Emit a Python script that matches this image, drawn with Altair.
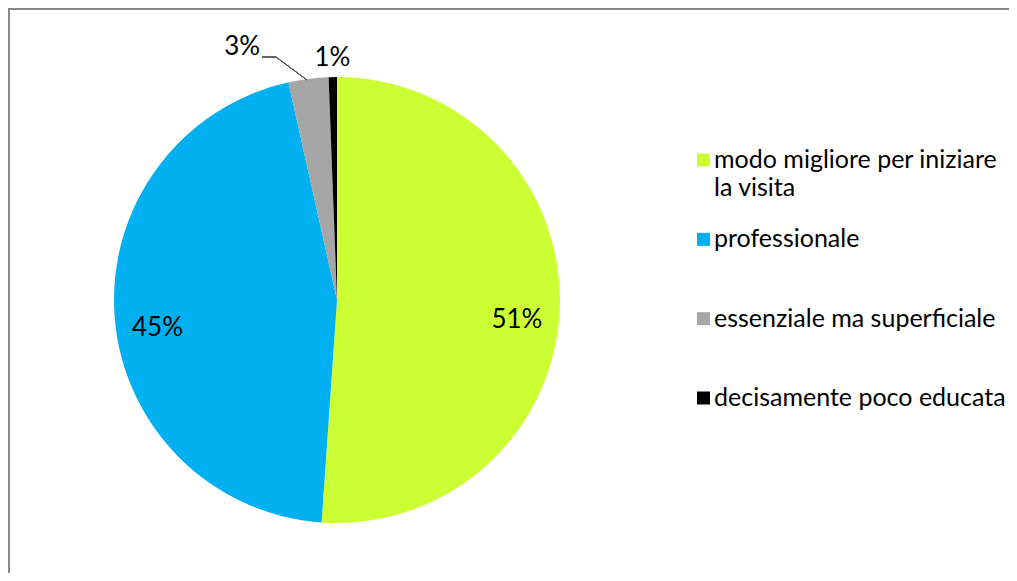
import altair as alt

categories = ["modo migliore per iniziare la visita", "professionale",
              "essenziale ma superficiale", "decisamente poco educata"]
legend_lines = [["modo migliore per iniziare", "la visita"], ["professionale"],
                ["essenziale ma superficiale"], ["decisamente poco educata"]]
values = [51.1, 45.4, 2.9, 0.6]
labels = ["51%", "45%", "3%", "1%"]
colors = ["#CCFF33", "#00B0F0", "#A6A6A6", "#000000"]

rows = [dict(cat=c, val=v, label=l, idx=i, lines=ln)
        for i, (c, v, l, ln) in enumerate(zip(categories, values, labels, legend_lines))]
data = alt.Data(values=rows)
base = alt.Chart(data)

FONT = "Lato"
PCT = 26
color = alt.Color("cat:N", scale=alt.Scale(domain=categories, range=colors), legend=None)
theta = alt.Theta("val:Q", stack=True)
order = alt.Order("idx:Q")
cx, cy = alt.value(329), alt.value(292)

pie = base.mark_arc(outerRadius=223).encode(theta=theta, color=color, order=order, x=cx, y=cy)

big = base.transform_calculate(t="datum.idx < 2 ? datum.label : ''").mark_text(
    radius=180, dy=14, fontSize=PCT, font=FONT, color="#000"
).encode(theta=theta, order=order, text="t:N", x=cx, y=cy)

one = base.transform_calculate(t="datum.idx == 3 ? datum.label : ''").mark_text(
    radius=242, fontSize=PCT, font=FONT, color="#000"
).encode(theta=theta, order=order, text="t:N", x=cx, y=cy)

three = base.transform_calculate(t="datum.idx == 2 ? datum.label : ''").mark_text(
    radius=255, dx=-62, fontSize=PCT, font=FONT, color="#000"
).encode(theta=theta, order=order, text="t:N", x=cx, y=cy)

leader1 = base.mark_rule(color="#595959", strokeWidth=1).encode(
    x=alt.value(254), x2=alt.value(268), y=alt.value(49), y2=alt.value(49))
leader2 = base.mark_rule(color="#595959", strokeWidth=1).encode(
    x=alt.value(268), x2=alt.value(299), y=alt.value(49), y2=alt.value(72))

ypos = alt.Y("cat:N", sort=categories, axis=None,
             scale=alt.Scale(type="point", domain=categories, range=[152, 390], padding=0))

leg_sq = base.mark_square(size=169, opacity=1).encode(
    x=alt.value(695.5), y=ypos, color=color)
leg_tx = base.mark_text(align="left", baseline="alphabetic", dy=8, fontSize=25,
                        lineHeight=28, font=FONT, color="#000").encode(
    x=alt.value(706), y=ypos, text="lines:N")

frame_top = base.mark_rule(color="#888888", strokeWidth=2).encode(
    x=alt.value(0), x2=alt.value(1001), y=alt.value(1), y2=alt.value(1))
frame_left = base.mark_rule(color="#888888", strokeWidth=2).encode(
    x=alt.value(1), x2=alt.value(1), y=alt.value(0), y2=alt.value(565))

chart = alt.layer(pie, big, one, three, leader1, leader2, leg_sq, leg_tx,
                  frame_top, frame_left).properties(
    width=1001, height=565, autosize=alt.AutoSizeParams(type="none"), padding=0
).configure_view(stroke=None)

chart.save("out.html", embed_options={"renderer": "svg", "actions": False})
